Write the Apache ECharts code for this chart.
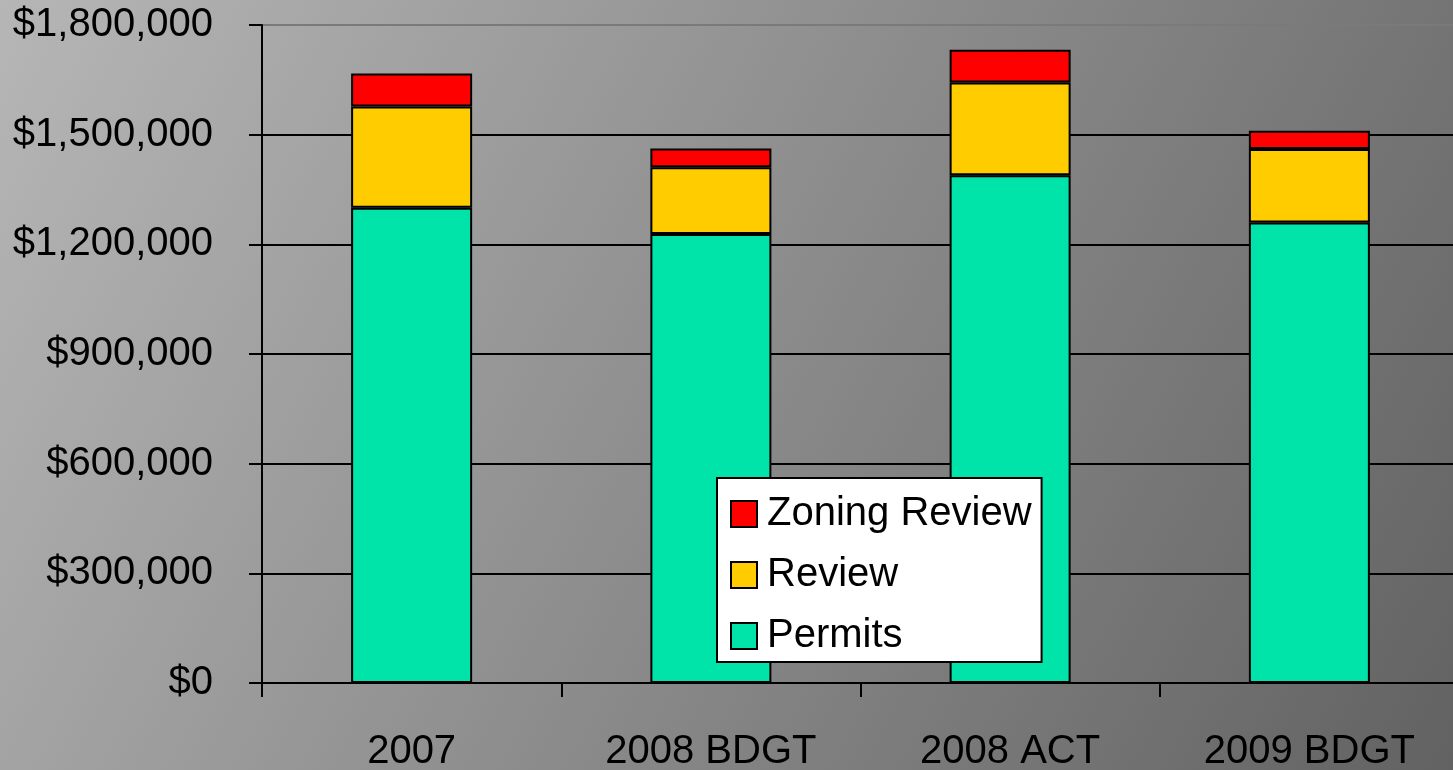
<!DOCTYPE html>
<html>
<head>
    <meta charset="utf-8">
    <title>Permits and Review Revenue</title>
    <style>
        html, body { margin: 0; padding: 0; }
        #main { width: 1453px; height: 770px; }
    </style>
</head>
<body>
<div id="main"></div>
<script src="https://cdn.jsdelivr.net/npm/echarts@6/dist/echarts.min.js"></script>
<script>
    // chart data
    var categories = ['2007', '2008 BDGT', '2008 ACT', '2009 BDGT'];
    var permits = [1300000, 1228000, 1389000, 1260000];
    var review = [277000, 183000, 254000, 201000];
    var zoningReview = [90000, 51000, 89000, 50000];
    var legendOrder = ['Zoning Review', 'Review', 'Permits'];

    var myChart = echarts.init(document.getElementById('main'));

    var fontFamily = '"Liberation Sans", Arial, sans-serif';
    var barBorder = { borderColor: '#000', borderWidth: 2 };

    function dollars(v) {
        return '$' + v.toString().replace(/\B(?=(\d{3})+(?!\d))/g, ',');
    }

    var option = {
        backgroundColor: {
            type: 'linear', x: 0, y: 0, x2: 1, y2: 1,
            colorStops: [
                { offset: 0, color: '#b6b6b6' },
                { offset: 1, color: '#626262' }
            ]
        },
        animation: false,
        textStyle: { fontFamily: fontFamily },
        grid: {
            left: 262,
            width: 1197,
            top: 25,
            bottom: 87,
            outerBoundsMode: 'none',
            containLabel: false
        },
        legend: {
            data: legendOrder,
            orient: 'vertical',
            left: 717,
            top: 478,
            icon: 'rect',
            backgroundColor: '#fff',
            borderColor: '#000',
            borderWidth: 2,
            borderRadius: 0,
            padding: [16, 10, 6, 13],
            itemWidth: 26,
            itemHeight: 26,
            itemGap: 21,
            textStyle: {
                color: '#000',
                fontSize: 40,
                lineHeight: 40,
                padding: [0, 0, 0, 5],
                fontFamily: fontFamily
            }
        },
        xAxis: {
            type: 'category',
            data: categories,
            axisLine: { lineStyle: { color: '#000', width: 2 } },
            axisTick: { show: true, length: 14, lineStyle: { color: '#000', width: 2 } },
            axisLabel: {
                color: '#000',
                fontSize: 40,
                margin: 49,
                fontFamily: fontFamily
            }
        },
        yAxis: {
            type: 'value',
            min: 0,
            max: 1800000,
            interval: 300000,
            axisLine: { show: true, lineStyle: { color: '#000', width: 2 } },
            axisTick: { show: true, length: 13, lineStyle: { color: '#000', width: 2 } },
            axisLabel: {
                color: '#000',
                fontSize: 40,
                margin: 49,
                fontFamily: fontFamily,
                formatter: dollars
            },
            splitLine: {
                lineStyle: {
                    color: ['#000', '#000', '#000', '#000', '#000', '#000', '#7a7a7a'],
                    width: 2
                }
            }
        },
        series: [
            {
                name: 'Permits',
                type: 'bar',
                stack: 'total',
                barWidth: 121,
                itemStyle: Object.assign({ color: '#00e3a9' }, barBorder),
                data: permits
            },
            {
                name: 'Review',
                type: 'bar',
                stack: 'total',
                barWidth: 121,
                itemStyle: Object.assign({ color: '#ffcc00' }, barBorder),
                data: review
            },
            {
                name: 'Zoning Review',
                type: 'bar',
                stack: 'total',
                barWidth: 121,
                itemStyle: Object.assign({ color: '#ff0000' }, barBorder),
                data: zoningReview
            }
        ]
    };

    myChart.setOption(option);
</script>
</body>
</html>
